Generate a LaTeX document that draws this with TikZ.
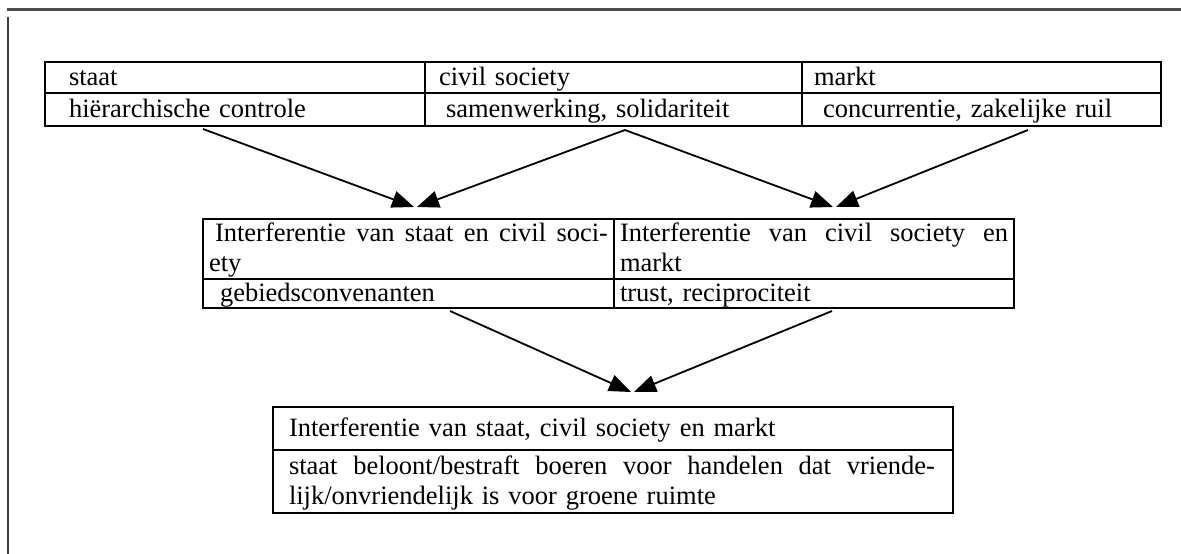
\documentclass[tikz,border=0pt]{standalone}
\usepackage{fontspec}
\setmainfont{Liberation Serif}
\usetikzlibrary{arrows.meta}
\newcommand{\cs}{\rule[-7pt]{0pt}{29pt}}

\begin{document}
\begin{tikzpicture}[x=1pt, y=-1pt, cell/.style={draw, line width=2.4pt, outer sep=0pt, inner xsep=6pt, inner ysep=0pt, anchor=north west, align=left, font=\fontsize{26.5}{27}\selectfont}, arr/.style={line width=1.8pt, -{Triangle[length=22pt, width=17pt]}}]
			\useasboundingbox (0,0) rectangle (1181,554);
			\draw[line width=3pt, black!70] (7,9) -- (1181,9);
			\draw[line width=2.5pt, black!75] (8,17) -- (8,554);
			\node[cell, text width=368pt, minimum height=31pt] (staat) at (45,62) {\cs\hspace*{18pt}staat};
			\node[cell, text width=365pt, minimum height=31pt] (civil) at (staat.north east) {\cs\hspace*{8pt}civil society};
			\node[cell, text width=347pt, minimum height=31pt] (markt) at (civil.north east) {\cs\hspace*{6pt}markt};
			\node[cell, text width=368pt, minimum height=33pt] (hier) at (staat.south west) {\cs\hspace*{18pt}hiërarchische controle};
			\node[cell, text width=365pt, minimum height=33pt] (samen) at (hier.north east) {\cs\hspace*{15pt}samenwerking, solidariteit};
			\node[cell, text width=347pt, minimum height=33pt] (concur) at (samen.north east) {\cs\hspace*{15pt}concurrentie, zakelijke ruil};
			\node[cell, text width=399pt, minimum height=60pt] (sc) at (203,219) {\cs\hspace*{6pt}\makebox[393pt][l]{Interferentie\hfill van\hfill staat\hfill en\hfill civil\hfill soci-}\\ety\cs};
			\node[cell, text width=388pt, minimum height=60pt] (cm) at (sc.north east) {\cs\makebox[388pt][l]{Interferentie\hfill van\hfill civil\hfill society\hfill en}\\markt\cs};
			\node[cell, text width=399pt, minimum height=29pt] (gebied) at (sc.south west) {\cs\hspace*{11pt}gebiedsconvenanten};
			\node[cell, text width=388pt, minimum height=29pt] (trust) at (gebied.north east) {\cs trust, reciprociteit};
			\node[cell, text width=668pt, minimum height=43pt] (scm) at (273,407) {\cs\hspace*{10pt}Interferentie van staat, civil society en markt};
			\node[cell, text width=668pt, minimum height=63pt] (boeren) at (scm.south west) {\cs\hspace*{10pt}\makebox[646pt][l]{staat\hfill beloont/bestraft\hfill boeren\hfill voor\hfill handelen\hfill dat\hfill vriende-}\\\hspace*{10pt}lijk/onvriendelijk is voor groene ruimte\cs};
			\coordinate (tipa) at (414,207);
			\coordinate (tipb) at (417,207);
			\coordinate (tipc) at (833,207);
			\coordinate (tipd) at (836,207);
			\coordinate (tipe) at (631,392);
			\coordinate (tipf) at (634,392);
			\draw[arr] ([xshift=-32pt, yshift=-3pt]hier.south) -- (tipa);
			\draw[arr] ([xshift=11.5pt, yshift=-4pt]samen.south) -- (tipb);
			\draw[arr] ([xshift=11.5pt, yshift=-4pt]samen.south) -- (tipc);
			\draw[arr] ([xshift=46.5pt, yshift=-4pt]concur.south) -- (tipd);
			\draw[arr] ([xshift=41.5pt, yshift=-3pt]gebied.south) -- (tipe);
			\draw[arr] ([xshift=18pt, yshift=-3pt]trust.south) -- (tipf);
			\end{tikzpicture}
\end{document}
